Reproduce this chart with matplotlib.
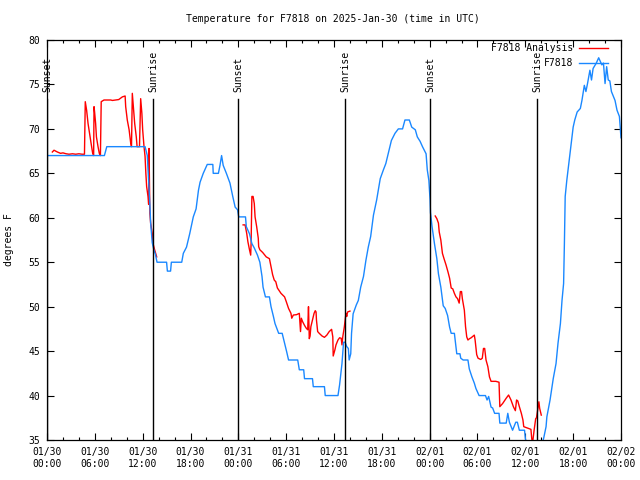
import numpy as np
import matplotlib
matplotlib.use("Agg")
import matplotlib.pyplot as plt

# hours since 2025-01-30 00:00 UTC
obs_hours = [0.0, 7.2, 7.5, 12.3, 12.58, 12.92, 13.0, 13.2, 13.4, 13.6, 13.8, 15.0, 15.1, 15.5, 15.6,
             16.9, 17.1, 17.5, 17.9, 18.35, 18.7, 19.0, 19.2, 19.6, 20.1, 20.8, 20.85, 21.5, 21.7, 21.9,
             22.1, 22.5, 22.95, 23.3, 23.6, 23.9, 24.05, 24.9, 25.0, 25.4, 25.7, 26.0, 26.4, 26.7, 26.97,
             27.1, 27.4, 27.9, 28.1, 28.4, 28.6, 29.06, 29.5, 29.8, 30.07, 30.3, 31.45, 31.65, 32.2, 32.3,
             33.3, 33.4, 34.8, 34.9, 36.5, 36.7, 37.0, 37.2, 37.4, 37.6, 37.8, 37.9, 38.1, 38.2, 38.4,
             38.8, 39.05, 39.35, 39.7, 40.0, 40.3, 40.6, 40.95, 41.35, 41.8, 42.2, 42.5, 42.8, 43.2, 43.65,
             44.07, 44.6, 44.9, 45.45, 45.75, 46.2, 46.45, 46.8, 47.1, 47.55, 47.7, 47.9, 48.05, 48.1, 48.3,
             48.6, 48.9, 49.1, 49.4, 49.7, 49.95, 50.25, 50.5, 50.7, 51.1, 51.2, 51.4, 51.8, 51.9, 52.2,
             52.8, 52.97, 53.3, 53.6, 53.8, 54.2, 55.0, 55.2, 55.4, 55.7, 55.9, 56.15, 56.7, 56.8, 57.6,
             57.8, 58.0, 58.4, 58.8, 59.0, 59.25, 59.9, 60.0, 60.2, 61.0, 62.0, 62.3, 62.6, 62.7, 63.1,
             63.5, 63.85, 64.1, 64.4, 64.6, 64.8, 64.9, 65.0, 65.2, 65.4, 65.6, 65.8, 66.0, 66.2, 66.5,
             66.9, 67.1, 67.4, 67.6, 67.8, 68.1, 68.3, 68.5, 68.9, 69.2, 69.6, 69.8, 70.0, 70.2, 70.4,
             70.6, 70.8, 71.25, 71.5, 71.8, 71.9, 72.0]
obs_temp = [67.0, 67.0, 68.0, 68.0, 67.0, 61.2, 59.4, 57.2, 56.4, 55.9, 55.0, 55.0, 54.0, 54.0, 55.0,
            55.0, 56.0, 56.7, 58.2, 60.1, 61.0, 63.1, 64.0, 65.0, 66.0, 66.0, 65.0, 65.0, 65.9, 67.0,
            65.9, 65.0, 63.9, 62.4, 61.2, 60.9, 60.1, 60.1, 59.0, 58.2, 57.1, 56.6, 55.8, 55.0, 53.4,
            52.2, 51.1, 51.1, 50.0, 48.9, 48.1, 47.0, 47.0, 45.9, 44.9, 44.0, 44.0, 42.9, 42.9, 41.9,
            41.9, 41.0, 41.0, 40.0, 40.0, 41.2, 43.6, 46.0, 46.0, 45.5, 45.3, 44.0, 44.7, 47.0, 49.2,
            50.2, 50.7, 52.2, 53.4, 55.2, 56.7, 57.9, 60.3, 62.0, 64.4, 65.4, 66.1, 67.2, 68.7, 69.5,
            70.0, 70.0, 71.0, 71.0, 70.2, 69.9, 69.1, 68.6, 68.0, 67.2, 65.4, 64.2, 62.0, 60.6, 59.0,
            57.1, 55.4, 53.7, 52.2, 50.1, 49.8, 49.0, 47.7, 47.0, 47.0, 46.2, 44.7, 44.7, 44.2, 44.0,
            44.0, 43.0, 42.1, 41.4, 40.8, 40.0, 40.0, 39.5, 39.9, 38.7, 38.6, 38.0, 38.0, 36.9, 36.9,
            38.0, 37.0, 36.1, 37.0, 37.0, 36.1, 36.1, 35.2, 34.3, 33.8, 34.3, 35.2, 36.5, 37.6, 39.5,
            41.9, 43.6, 45.9, 48.1, 50.7, 52.6, 57.1, 62.4, 64.2, 65.7, 67.2, 68.7, 70.2, 71.0, 71.9,
            72.3, 73.2, 74.9, 74.2, 75.1, 76.6, 75.5, 76.8, 77.4, 78.0, 77.2, 77.4, 75.1, 77.0, 75.5,
            75.4, 74.2, 73.2, 72.1, 71.4, 70.2, 69.0]

# analysis series, NaN marks the gaps
ana_hours = [0.67, 0.88, 1.3, 1.7, 2.0, 2.4, 2.76, 3.2, 3.6, 4.0, 4.4, 4.7, 4.8, 4.97, 5.15, 5.4, 5.56,
             5.73, 5.85, 5.9, 5.97, 6.1, 6.2, 6.4, 6.56, 6.7, 6.8, 7.15, 8.0, 8.2, 8.6, 9.0, 9.45, 9.8,
             9.87, 10.07, 10.3, 10.5, 10.6, 10.7, 10.8, 11.0, 11.2, 11.3, 11.6, 11.75, 11.9, 12.0, 12.17,
             12.3, 12.4, 12.5, 12.67, 12.75, 12.8, 12.9, 13.0, 13.2, 13.3, 13.5, 13.76,
             19.0,
             24.6, 24.85, 25.05, 25.2, 25.4, 25.55, 25.6, 25.7, 25.85, 26.0, 26.1, 26.3, 26.5, 26.55,
             26.7, 27.05, 27.5, 27.9, 28.1, 28.3, 28.5, 28.7, 28.9, 29.35, 29.8, 30.0, 30.3, 30.6, 30.7,
             30.9, 31.3, 31.65, 31.8, 31.9, 32.07, 32.3, 32.5, 32.7, 32.8, 32.9, 33.0, 33.1, 33.3, 33.5,
             33.65, 33.75, 33.8, 33.95, 34.15, 34.5, 34.8, 35.1, 35.4, 35.7, 35.85, 35.9, 36.1, 36.25,
             36.5, 36.7, 36.9, 37.0, 37.1, 37.3, 37.4, 37.5, 37.6, 37.7, 38.0,
             43.0,
             48.7, 48.9, 49.1, 49.2, 49.4, 49.6, 49.8, 50.05, 50.3, 50.5, 50.7, 50.9, 51.1, 51.3, 51.5,
             51.7, 51.85, 52.0, 52.1, 52.35, 52.5, 52.65, 52.8, 53.0, 53.2, 53.6, 53.7, 53.9, 54.07, 54.4,
             54.6, 54.75, 54.9, 55.07, 55.3, 55.5, 55.7, 56.3, 56.7, 56.8, 57.15, 57.6, 57.9, 58.2, 58.5,
             58.75, 58.9, 59.05, 59.25, 59.5, 59.7, 59.8, 60.1, 60.4, 60.7, 60.8, 60.9, 61.1, 61.3, 61.4,
             61.6, 61.7, 61.8, 62.0]
ana_temp = [67.4, 67.6, 67.4, 67.25, 67.3, 67.2, 67.15, 67.2, 67.15, 67.2, 67.15, 67.15, 73.06, 72.1,
            70.6, 69.1, 68.2, 67.25, 67.0, 72.5, 71.9, 70.6, 69.1, 68.0, 67.25, 67.0, 73.06, 73.25, 73.25,
            73.2, 73.25, 73.3, 73.6, 73.7, 72.5, 71.0, 69.9, 68.4, 68.0, 74.0, 72.9, 70.6, 69.1, 68.0,
            68.0, 73.4, 71.75, 69.9, 68.0, 66.9, 65.0, 63.5, 62.4, 61.5, 67.8, 60.5, 59.4, 58.25, 57.1,
            56.4, 55.6,
            np.nan,
            59.2, 59.2, 58.25, 57.3, 56.4, 55.8, 57.1, 62.4, 62.4, 61.6, 60.1, 59.0, 57.7, 56.75, 56.4,
            56.1, 55.6, 55.4, 54.5, 53.6, 53.0, 52.8, 52.1, 51.5, 51.1, 50.6, 49.8, 49.25, 48.7, 49.06,
            49.1, 49.25, 47.2, 48.7, 48.3, 47.9, 47.6, 47.4, 50.0, 46.4, 46.7, 47.75, 48.5, 49.25, 49.55,
            49.4, 48.5, 47.2, 47.0, 46.7, 46.55, 46.8, 47.2, 47.45, 46.6, 44.45, 45.1, 45.7, 46.25, 46.5,
            46.45, 45.7, 46.6, 47.75, 48.5, 49.25, 48.9, 49.4, 49.5,
            np.nan,
            60.2, 59.9, 59.4, 58.4, 57.5, 56.0, 55.4, 54.7, 53.9, 53.2, 52.1, 52.0, 51.5, 51.1, 50.9,
            50.4, 51.7, 51.7, 50.9, 49.6, 47.75, 46.6, 46.25, 46.4, 46.5, 46.8, 46.25, 44.6, 44.2, 44.06,
            44.2, 45.3, 45.3, 44.0, 43.25, 42.1, 41.6, 41.6, 41.5, 38.75, 39.1, 39.7, 40.06, 39.5, 38.75,
            38.3, 39.5, 39.4, 38.75, 38.0, 37.25, 36.5, 36.4, 36.3, 36.2, 35.2, 34.6, 36.1, 37.4, 37.5,
            38.75, 39.3, 38.55, 37.8]

sun_hours = [0.0, 13.3, 23.96, 37.38, 48.04, 61.47]
sun_labels = ["Sunset", "Sunrise", "Sunset", "Sunrise", "Sunset", "Sunrise"]

tick_hours = list(range(0, 73, 6))
tick_labels = ["01/30\n00:00", "01/30\n06:00", "01/30\n12:00", "01/30\n18:00",
               "01/31\n00:00", "01/31\n06:00", "01/31\n12:00", "01/31\n18:00",
               "02/01\n00:00", "02/01\n06:00", "02/01\n12:00", "02/01\n18:00",
               "02/02\n00:00"]

plt.rcParams.update({"font.family": "DejaVu Sans Mono", "font.size": 7})

fig = plt.figure(figsize=(6.4, 4.8), dpi=100)
ax = fig.add_axes([47/640, 40/480, 574/640, 400/480])

ana_line, = ax.plot(ana_hours, ana_temp, color="#ff0000", lw=1.0)
obs_line, = ax.plot(obs_hours, obs_temp, color="#1a88ff", lw=1.0)

xf = ax.get_xaxis_transform()
for h, lab in zip(sun_hours, sun_labels):
    ax.plot([h, h], [0, 0.853], color="black", lw=1.0, transform=xf)
    ax.text(h, 0.87, lab, rotation=90, ha="center", va="bottom", transform=xf)

ax.set_xlim(0, 72)
ax.set_ylim(35, 80)
ax.set_xticks(tick_hours)
ax.set_xticklabels(tick_labels)
ax.set_xticks(range(0, 73, 2), minor=True)
ax.set_yticks(range(35, 81, 5))
ax.tick_params(which="both", direction="in", top=True, right=True, width=0.8, pad=5)
ax.tick_params(which="major", length=5)
ax.tick_params(which="minor", length=2.5)
for s in ax.spines.values():
    s.set_linewidth(0.9)

ax.set_ylabel("degrees F")
ax.yaxis.set_label_coords(-0.057, 0.5)

fig.text(333/640, 1 - 19/480, "Temperature for F7818 on 2025-Jan-30 (time in UTC)",
         ha="center", va="center")

ax.legend([ana_line, obs_line], ["F7818 Analysis", "F7818"], loc="upper right",
          bbox_to_anchor=(0.9775, 0.992), frameon=False, markerfirst=False,
          handlelength=3.0, handletextpad=0.6, borderpad=0, borderaxespad=0,
          labelspacing=0.5)

fig.savefig("out.png", dpi=100)
